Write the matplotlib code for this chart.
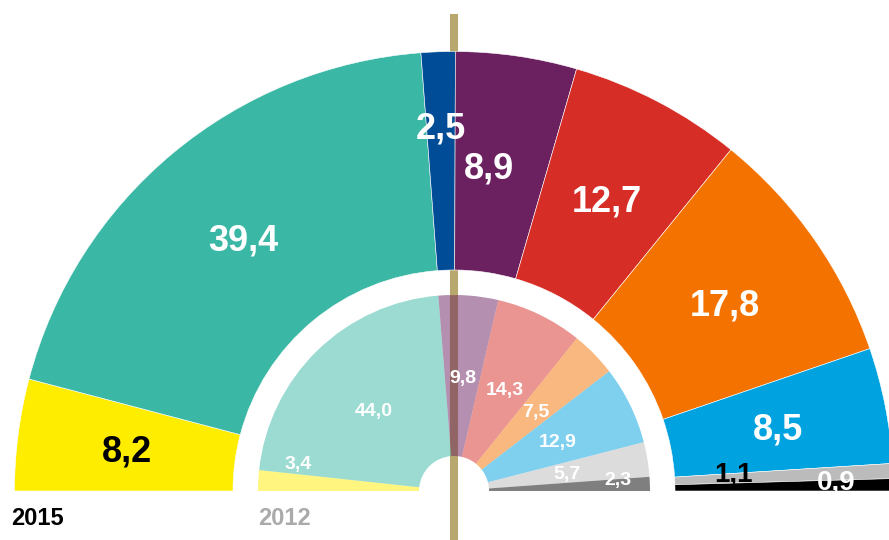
import matplotlib
matplotlib.use('Agg')
import matplotlib.pyplot as plt
from matplotlib.patches import Wedge

plt.rcParams['font.family'] = ['Liberation Sans', 'DejaVu Sans']

### DATA
parties_2015 = ['yellow', 'teal', 'darkblue', 'purple', 'red', 'orange', 'lightblue', 'grey', 'black']
values_2015 = [8.2, 39.4, 2.5, 8.9, 12.7, 17.8, 8.5, 1.1, 0.9]
labels_2015 = ['8,2', '39,4', '2,5', '8,9', '12,7', '17,8', '8,5', '1,1', '0,9']

parties_2012 = ['yellow', 'teal', 'purple', 'red', 'orange', 'lightblue', 'grey', 'black']
values_2012 = [3.4, 44.0, 9.8, 14.3, 7.5, 12.9, 5.7, 2.3]
labels_2012 = ['3,4', '44,0', '9,8', '14,3', '7,5', '12,9', '5,7', '2,3']

colors = {'yellow': '#FFED00', 'teal': '#3BB8A5', 'darkblue': '#004C97',
          'purple': '#6B2160', 'red': '#D62D27', 'orange': '#F47300',
          'lightblue': '#00A3E0', 'grey': '#BBBBBB', 'black': '#000000'}

### LAYOUT (pixels, centre of the hemicycle at 0,0)
cx, cy = 454, 491
r_out, w_out = 439.5, 218.5
r_in, w_in = 196, 161

fig = plt.figure(figsize=(8.89, 5.4), dpi=100)
ax = fig.add_axes([0, 0, 1, 1])
ax.set_xlim(-cx, 889 - cx)
ax.set_ylim(cy - 540, cy)
ax.set_aspect('equal')
ax.axis('off')

def angles(values):
    total = sum(values)
    out = []
    cum = 0
    for v in values:
        t2 = 180 - cum / total * 180
        cum += v
        t1 = 180 - cum / total * 180
        out.append((t1, t2))
    return out

def put_label(txt, r, ang, fs, color):
    import math
    x = r * math.cos(math.radians(ang))
    y = r * math.sin(math.radians(ang)) - 0.358 * fs * 100 / 72
    ax.text(x, y, txt, ha='center', va='baseline', fontsize=fs,
            fontweight='bold', color=color, zorder=5)

# gold divider line, behind the 2015 ring, under the 2012 ring
ax.plot([0, 0], [cy - 14, cy - 560], color='#B9A86E', lw=5.8, zorder=1,
        solid_capstyle='butt')

# 2015 ring
for (t1, t2), p in zip(angles(values_2015), parties_2015):
    ax.add_patch(Wedge((0, 0), r_out, t1, t2, width=w_out, facecolor=colors[p],
                       edgecolor='white', lw=0.4, zorder=2))

# 2012 ring, same colours half transparent
for (t1, t2), p in zip(angles(values_2012), parties_2012):
    ax.add_patch(Wedge((0, 0), r_in, t1, t2, width=w_in, facecolor=colors[p],
                       alpha=0.5, lw=0, zorder=3))

# labels 2015: default radius, a few moved by hand
over_2015 = {2: (366, None), 3: (327, 83.9), 7: (280, 3.9), 8: (382, 1.65)}
for i, ((t1, t2), txt) in enumerate(zip(angles(values_2015), labels_2015)):
    r, a = 330, (t1 + t2) / 2
    if i in over_2015:
        r = over_2015[i][0]
        if over_2015[i][1] is not None:
            a = over_2015[i][1]
    fs = 20 if i in (7, 8) else 26
    col = 'black' if i in (0, 7) else 'white'
    put_label(txt, r, a, fs, col)

over_2012 = {0: (159, 169.5), 7: (164, 4.6)}
for i, ((t1, t2), txt) in enumerate(zip(angles(values_2012), labels_2012)):
    r, a = 115, (t1 + t2) / 2
    if i in over_2012:
        r, a = over_2012[i]
    put_label(txt, r, a, 14, 'white')

ax.text(11 - cx, cy - 525, '2015', ha='left', va='baseline', fontsize=17,
        fontweight='bold', color='black')
ax.text(258 - cx, cy - 525, '2012', ha='left', va='baseline', fontsize=17,
        fontweight='bold', color='#AAAAAA')

fig.savefig('out.png', dpi=100)
